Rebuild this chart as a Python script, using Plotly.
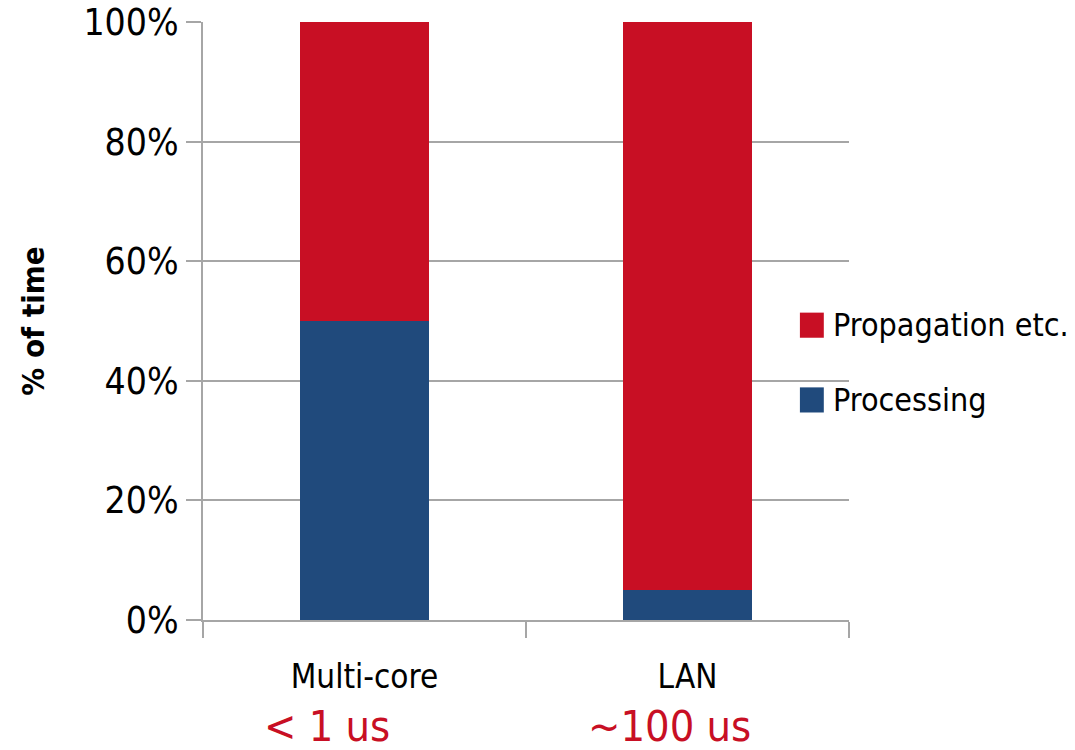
import plotly.graph_objects as go

categories = ["Multi-core", "LAN"]
latency_labels = ["< 1 us", "~100 us"]
processing = [50, 5]
propagation = [50, 95]
y_ticks = [0, 20, 40, 60, 80, 100]
y_tick_text = ["0%", "20%", "40%", "60%", "80%", "100%"]

RED = "#c80f24"
BLUE = "#204a7c"
GRID = "#a6a6a6"
FONT = "DejaVu Sans Condensed, sans-serif"

fig = go.Figure()
fig.add_trace(go.Bar(x=categories, y=processing, name="Processing",
                     marker=dict(color=BLUE, line=dict(width=0)), width=0.4,
                     showlegend=False))
fig.add_trace(go.Bar(x=categories, y=propagation, name="Propagation etc.",
                     marker=dict(color=RED, line=dict(width=0)), width=0.4,
                     showlegend=False))

# latency captions under the category labels, nudged slightly left
caption_shift = [-38, -18]
for cat, lab, dx in zip(categories, latency_labels, caption_shift):
    fig.add_annotation(x=cat, xref="x", y=-0.178, yref="paper", yanchor="middle",
                       xshift=dx, text=lab.replace("<", "&lt;"), showarrow=False,
                       font=dict(family=FONT, size=43, color=RED))

# legend: colour swatches with labels
legend_items = [("Propagation etc.", RED, 0.493), ("Processing", BLUE, 0.368)]
for name, color, yc in legend_items:
    fig.add_shape(type="rect", xref="paper", yref="paper",
                  x0=0.924, x1=0.961, y0=yc - 0.021, y1=yc + 0.021,
                  fillcolor=color, line=dict(width=0))
    fig.add_annotation(x=0.972, xref="paper", y=yc, yref="paper",
                       xanchor="left", yanchor="middle", text=name,
                       showarrow=False, font=dict(family=FONT, size=32, color="black"))

fig.update_layout(
    barmode="stack",
    width=1075, height=750,
    margin=dict(l=203, r=226, t=22, b=130, autoexpand=False),
    paper_bgcolor="white", plot_bgcolor="white",
    font=dict(family=FONT, color="black"),
    bargap=0.6,
)
fig.update_yaxes(
    range=[0, 100], tickvals=y_ticks, ticktext=y_tick_text,
    tickfont=dict(family=FONT, size=37, color="black"),
    ticklabeloverflow="allow", automargin=False,
    showgrid=True, gridcolor=GRID, gridwidth=2,
    showline=True, linecolor=GRID, linewidth=2,
    ticks="outside", ticklen=15, tickcolor=GRID, tickwidth=2,
    zeroline=False,
    title=dict(text="<b>% of time</b>", font=dict(family=FONT, size=31, color="black"), standoff=30),
)
fig.update_xaxes(
    tickfont=dict(family=FONT, size=33, color="black"),
    ticklabelstandoff=26, automargin=False,
    showline=True, linecolor=GRID, linewidth=2,
    ticks="outside", tickson="boundaries", ticklen=16, tickcolor=GRID, tickwidth=2,
    showgrid=False,
)

fig.write_html("out.html")
